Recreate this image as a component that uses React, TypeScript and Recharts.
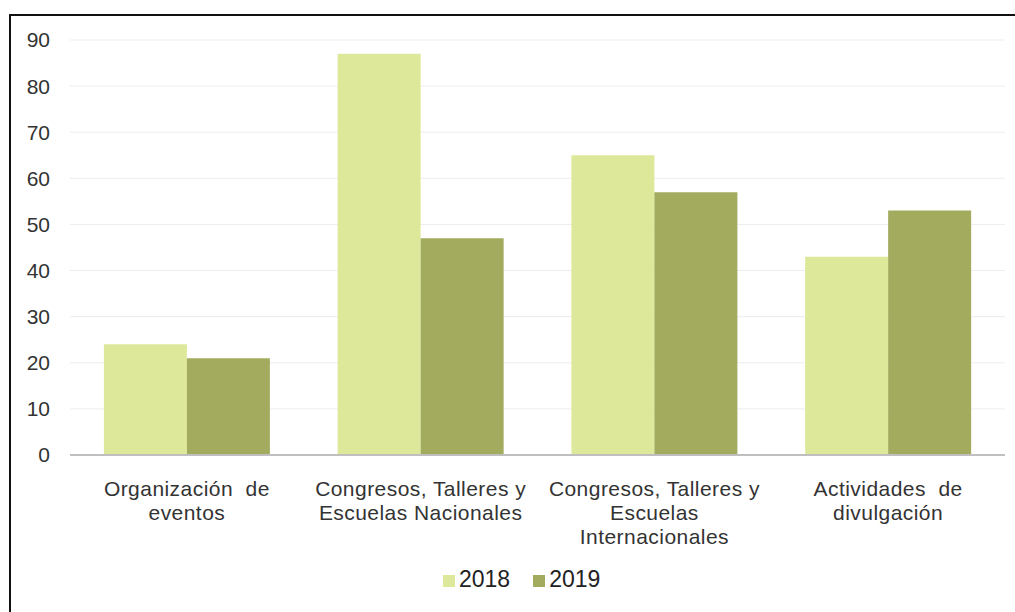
import React from 'react';
import { BarChart, Bar, XAxis, YAxis, CartesianGrid } from 'recharts';

const categories = [
  'Organización  de|eventos',
  'Congresos, Talleres y|Escuelas Nacionales',
  'Congresos, Talleres y|Escuelas|Internacionales',
  'Actividades  de|divulgación',
];
const values2018 = [24, 87, 65, 43];
const values2019 = [21, 47, 57, 53];
const yTicks = [0, 10, 20, 30, 40, 50, 60, 70, 80, 90];
const seriesNames = ['2018', '2019'];

const data = categories.map((c, i) => ({ cat: c, y2018: values2018[i], y2019: values2019[i] }));

const C18 = '#DEE89A';
const C19 = '#A3AB5E';
const FONT = 'Liberation Sans, Arial, sans-serif';

const XTick = (props: any) => {
  const { x, y, payload } = props;
  const lines = String(payload.value).split('|');
  return (
    <g transform={`translate(${x},${y})`}>
      {lines.map((l, i) => (
        <text key={i} x={0} y={33 + i * 24} textAnchor="middle" fill="#333" fontSize={21} fontFamily={FONT} letterSpacing={0.45} style={{ whiteSpace: 'pre' }}>
          {l}
        </text>
      ))}
    </g>
  );
};

export default function App() {
  return (
    <div style={{ position: 'absolute', left: 0, top: 0, width: 1015, height: 612, background: '#fff', overflow: 'hidden' }}>
      <div style={{ position: 'absolute', left: 9, top: 14, width: 1020, height: 620, borderTop: '2px solid #111', borderLeft: '2px solid #111' }} />
      <div style={{ position: 'absolute', left: 0, top: 0 }}>
        <BarChart width={1015} height={612} data={data} margin={{ top: 40, right: 10, bottom: 0, left: 0 }} barCategoryGap="14.5%" barGap={0}>
          <CartesianGrid vertical={false} stroke="#EDEDED" strokeWidth={1} />
          <XAxis dataKey="cat" tick={<XTick />} tickLine={false} axisLine={{ stroke: '#BFBFBF', strokeWidth: 2 }} interval={0} height={157} />
          <YAxis domain={[0, 90]} ticks={yTicks} width={70} tickLine={false} axisLine={false} tickSize={0} tickMargin={20}
            tick={{ fill: '#333', fontSize: 21, fontFamily: FONT }} />
          <Bar dataKey="y2018" name={seriesNames[0]} fill={C18} isAnimationActive={false} />
          <Bar dataKey="y2019" name={seriesNames[1]} fill={C19} isAnimationActive={false} />
        </BarChart>
      </div>
      <div style={{ position: 'absolute', top: 565, left: 443, display: 'flex', fontFamily: FONT, fontSize: 23, lineHeight: '28px', color: '#222' }}>
        {seriesNames.map((n, i) => (
          <div key={n} style={{ display: 'flex', alignItems: 'center', marginRight: i === 0 ? 23 : 0 }}>
            <span style={{ display: 'inline-block', width: 12, height: 12, background: i === 0 ? C18 : C19, marginRight: 4, marginTop: 4 }} />
            <span>{n}</span>
          </div>
        ))}
      </div>
    </div>
  );
}
